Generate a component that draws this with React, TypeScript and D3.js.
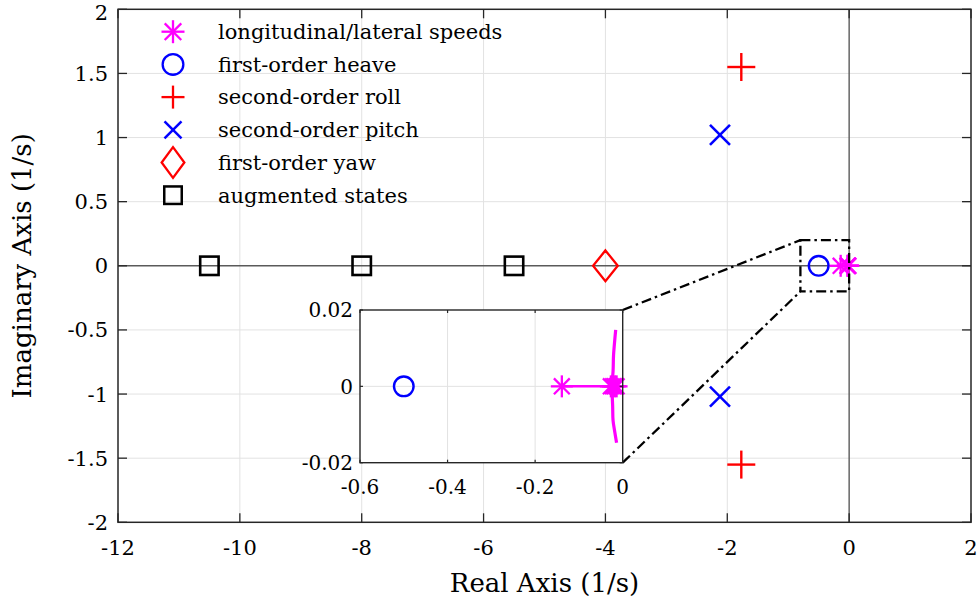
import React from "react";
import * as d3 from "d3";

// ---- data ----
const xTicks = [-12, -10, -8, -6, -4, -2, 0, 2];
const yTicks = [-2, -1.5, -1, -0.5, 0, 0.5, 1, 1.5, 2];
const insetXTicks = [-0.6, -0.4, -0.2, 0];
const insetYTicks = [-0.02, 0, 0.02];

// longitudinal/lateral speed poles (star markers) and their locus
const speedRe = [-0.139, -0.027, -0.022, -0.018, -0.014];
const speedIm = [0, 0, 0, 0, 0];
const speedLocusRe = [-0.139, -0.1, -0.06, -0.03, -0.008];
const speedLocusIm = [0, 0, 0, 0, 0];
const upperBranchRe = [-0.025, -0.022, -0.021, -0.019, -0.016];
const upperBranchIm = [0, 0.004, 0.008, 0.011, 0.0148];
const lowerBranchRe = [-0.025, -0.023, -0.022, -0.018, -0.014];
const lowerBranchIm = [0, -0.005, -0.009, -0.012, -0.0148];

const heaveRe = [-0.5];
const heaveIm = [0];
const rollRe = [-1.77, -1.77];
const rollIm = [1.55, -1.55];
const pitchRe = [-2.12, -2.12];
const pitchIm = [1.02, -1.02];
const yawRe = [-4];
const yawIm = [0];
const augRe = [-10.5, -8, -5.5];
const augIm = [0, 0, 0];

// zoom window drawn on the main axes
const zoomRe = [-0.8, 0];
const zoomIm = [-0.2, 0.2];

const legendLabels = [
  "longitudinal/lateral speeds",
  "first-order heave",
  "second-order roll",
  "second-order pitch",
  "first-order yaw",
  "augmented states",
];

// ---- layout ----
const W = 978;
const H = 605;
const M = { left: 118, right: 971, top: 9.3, bottom: 522.3 };
const INSET = { left: 360, right: 622.7, top: 310, bottom: 462.7 };
const FONT = "'DejaVu Serif', serif";
const MAGENTA = "#ff00ff";
const BLUE = "#0000ff";
const RED = "#ff0000";
const AXIS = "#262626";
const GRID = "#e2e2e2";

type MarkerKind = "star" | "circle" | "plus" | "x" | "diamond" | "square";

function Marker({ kind, x, y, size, color, sw = 2, h }: { kind: MarkerKind; x: number; y: number; size: number; color: string; sw?: number; h?: number }) {
  const r = size / 2;
  const common = { stroke: color, strokeWidth: sw, fill: "none" } as const;
  switch (kind) {
    case "star": {
      const d = r * 0.72;
      return (
        <g {...common} strokeLinecap="butt">
          <line x1={x - r} y1={y} x2={x + r} y2={y} />
          <line x1={x} y1={y - r} x2={x} y2={y + r} />
          <line x1={x - d} y1={y - d} x2={x + d} y2={y + d} />
          <line x1={x - d} y1={y + d} x2={x + d} y2={y - d} />
        </g>
      );
    }
    case "circle":
      return <circle cx={x} cy={y} r={r - sw / 2} {...common} />;
    case "plus":
      return (
        <g {...common}>
          <line x1={x - r} y1={y} x2={x + r} y2={y} />
          <line x1={x} y1={y - r} x2={x} y2={y + r} />
        </g>
      );
    case "x":
      return (
        <g {...common}>
          <line x1={x - r} y1={y - r} x2={x + r} y2={y + r} />
          <line x1={x - r} y1={y + r} x2={x + r} y2={y - r} />
        </g>
      );
    case "diamond": {
      const hh = (h ?? size) / 2;
      const pts = [
        [x, y - hh + sw / 2],
        [x + r - sw / 2, y],
        [x, y + hh - sw / 2],
        [x - r + sw / 2, y],
      ];
      return <polygon points={pts.map((p) => p.join(",")).join(" ")} {...common} strokeLinejoin="miter" />;
    }
    case "square":
      return <rect x={x - r + sw / 2} y={y - r + sw / 2} width={size - sw} height={size - sw} {...common} />;
  }
}

export default function App() {
  const x = d3.scaleLinear().domain([-12, 2]).range([M.left, M.right]);
  const y = d3.scaleLinear().domain([-2, 2]).range([M.bottom, M.top]);
  const ix = d3.scaleLinear().domain([-0.6, 0]).range([INSET.left, INSET.right]);
  const iy = d3.scaleLinear().domain([-0.02, 0.02]).range([INSET.bottom, INSET.top]);

  const fmt = (v: number) => String(v);

  const line = (sx: d3.ScaleLinear<number, number>, sy: d3.ScaleLinear<number, number>, re: number[], im: number[]) =>
    d3.line<number>().x((_, i) => sx(re[i])).y((_, i) => sy(im[i]))(re.map((_, i) => i)) || "";

  const mainTick = 9;
  const insetTick = 3;

  const speedMarks = (sx: any, sy: any) => (
    <g>
      <path d={line(sx, sy, speedLocusRe, speedLocusIm)} stroke={MAGENTA} strokeWidth={2.5} fill="none" />
      <path d={d3.line<number>().x((_, i) => sx(upperBranchRe[i])).y((_, i) => sy(upperBranchIm[i])).curve(d3.curveCatmullRom)(upperBranchRe.map((_, i) => i)) || ""} stroke={MAGENTA} strokeWidth={3.2} fill="none" strokeLinejoin="round" />
      <path d={d3.line<number>().x((_, i) => sx(lowerBranchRe[i])).y((_, i) => sy(lowerBranchIm[i])).curve(d3.curveCatmullRom)(lowerBranchRe.map((_, i) => i)) || ""} stroke={MAGENTA} strokeWidth={3.2} fill="none" strokeLinejoin="round" />
      {speedRe.map((re, i) => (
        <Marker key={i} kind="star" x={sx(re)} y={sy(speedIm[i])} size={22} color={MAGENTA} sw={2.3} />
      ))}
    </g>
  );

  const dashDot = "10,4,2.5,4";

  // legend
  const legendX = 173;
  const legendTextX = 218;
  const legendY0 = 31.7;
  const legendDy = 32.7;
  const legendMarkers: { kind: MarkerKind; color: string; size: number; h?: number; sw?: number }[] = [
    { kind: "star", color: MAGENTA, size: 23, sw: 2.3 },
    { kind: "circle", color: BLUE, size: 23 },
    { kind: "plus", color: RED, size: 23 },
    { kind: "x", color: BLUE, size: 17, sw: 2.4 },
    { kind: "diamond", color: RED, size: 25, h: 33 },
    { kind: "square", color: "#000", size: 20, sw: 2.5 },
  ];

  return (
    <svg width={W} height={H} style={{ position: "absolute", left: 0, top: 0, background: "#fff" }} fontFamily={FONT}>
      <rect x={0} y={0} width={W} height={H} fill="#fff" />
      {/* grid */}
      <g stroke={GRID} strokeWidth={1}>
        {xTicks.filter((t) => t !== -12 && t !== 2 && t !== 0).map((t) => (
          <line key={"gx" + t} x1={x(t)} x2={x(t)} y1={M.top} y2={M.bottom} />
        ))}
        {yTicks.filter((t) => t !== -2 && t !== 2 && t !== 0).map((t) => (
          <line key={"gy" + t} x1={M.left} x2={M.right} y1={y(t)} y2={y(t)} />
        ))}
      </g>
      {/* zero axes */}
      <g stroke="#5a5a5a" strokeWidth={1.4}>
        <line x1={x(0)} x2={x(0)} y1={M.top} y2={M.bottom} />
        <line x1={M.left} x2={M.right} y1={y(0)} y2={y(0)} />
      </g>

      {/* pole markers */}
      {augRe.map((re, i) => (
        <Marker key={"a" + i} kind="square" x={x(re)} y={y(augIm[i])} size={21} color="#000" sw={2.6} />
      ))}
      {yawRe.map((re, i) => (
        <Marker key={"y" + i} kind="diamond" x={x(re)} y={y(yawIm[i])} size={27} h={33} color={RED} sw={2.3} />
      ))}
      {pitchRe.map((re, i) => (
        <Marker key={"p" + i} kind="x" x={x(re)} y={y(pitchIm[i])} size={20} color={BLUE} sw={2.5} />
      ))}
      {rollRe.map((re, i) => (
        <Marker key={"r" + i} kind="plus" x={x(re)} y={y(rollIm[i])} size={28} color={RED} sw={2.4} />
      ))}
      {heaveRe.map((re, i) => (
        <Marker key={"h" + i} kind="circle" x={x(re)} y={y(heaveIm[i])} size={22} color={BLUE} sw={2.4} />
      ))}
      {speedMarks(x, y)}

      {/* zoom window and connectors */}
      <g stroke="#000" strokeWidth={2.3} fill="none" strokeDasharray={dashDot}>
        <rect x={x(zoomRe[0])} y={y(zoomIm[1])} width={x(zoomRe[1]) - x(zoomRe[0])} height={y(zoomIm[0]) - y(zoomIm[1])} />
        <line x1={INSET.right} y1={INSET.top} x2={x(zoomRe[0])} y2={y(zoomIm[1])} />
        <line x1={INSET.right} y1={INSET.bottom} x2={x(zoomRe[0])} y2={y(zoomIm[0])} />
      </g>

      {/* main axes box and ticks */}
      <rect x={M.left} y={M.top} width={M.right - M.left} height={M.bottom - M.top} fill="none" stroke={AXIS} strokeWidth={1.5} />
      <g stroke={AXIS} strokeWidth={1.3}>
        {xTicks.map((t) => (
          <g key={"tx" + t}>
            <line x1={x(t)} x2={x(t)} y1={M.bottom} y2={M.bottom - mainTick} />
            <line x1={x(t)} x2={x(t)} y1={M.top} y2={M.top + mainTick} />
          </g>
        ))}
        {yTicks.map((t) => (
          <g key={"ty" + t}>
            <line x1={M.left} x2={M.left + mainTick} y1={y(t)} y2={y(t)} />
            <line x1={M.right} x2={M.right - mainTick} y1={y(t)} y2={y(t)} />
          </g>
        ))}
      </g>
      <g fontSize={21} fill="#000">
        {xTicks.map((t) => (
          <text key={"lx" + t} x={x(t)} y={555} textAnchor="middle">{fmt(t)}</text>
        ))}
        {yTicks.map((t) => (
          <text key={"ly" + t} x={M.left - 10} y={Math.max(y(t), 12)} dy="0.36em" textAnchor="end">{fmt(t)}</text>
        ))}
      </g>
      <text x={(M.left + M.right) / 2} y={592} textAnchor="middle" fontSize={26}>Real Axis (1/s)</text>
      <text transform={`translate(31,${y(0)}) rotate(-90)`} textAnchor="middle" fontSize={26}>Imaginary Axis (1/s)</text>

      {/* legend */}
      {legendLabels.map((label, i) => {
        const ly = legendY0 + i * legendDy;
        const m = legendMarkers[i];
        return (
          <g key={"lg" + i}>
            <Marker kind={m.kind} x={legendX} y={ly} size={m.size} h={m.h} color={m.color} sw={m.sw ?? 2.3} />
            <text x={legendTextX} y={ly} dy="0.35em" fontSize={21}>{label}</text>
          </g>
        );
      })}

      {/* inset axes */}
      <rect x={INSET.left} y={INSET.top} width={INSET.right - INSET.left} height={INSET.bottom - INSET.top} fill="#fff" />
      <g stroke={GRID} strokeWidth={1}>
        {insetXTicks.filter((t) => t !== -0.6 && t !== 0).map((t) => (
          <line key={"igx" + t} x1={ix(t)} x2={ix(t)} y1={INSET.top} y2={INSET.bottom} />
        ))}
        {insetYTicks.filter((t) => t === 0).map((t) => (
          <line key={"igy" + t} x1={INSET.left} x2={INSET.right} y1={iy(t)} y2={iy(t)} />
        ))}
      </g>
      {heaveRe.map((re, i) => (
        <Marker key={"ih" + i} kind="circle" x={ix(re)} y={iy(heaveIm[i])} size={22} color={BLUE} sw={2.4} />
      ))}
      {speedMarks(ix, iy)}
      <rect x={INSET.left} y={INSET.top} width={INSET.right - INSET.left} height={INSET.bottom - INSET.top} fill="none" stroke={AXIS} strokeWidth={1.4} />
      <g stroke={AXIS} strokeWidth={1.2}>
        {insetXTicks.map((t) => (
          <g key={"itx" + t}>
            <line x1={ix(t)} x2={ix(t)} y1={INSET.bottom} y2={INSET.bottom - insetTick} />
            <line x1={ix(t)} x2={ix(t)} y1={INSET.top} y2={INSET.top + insetTick} />
          </g>
        ))}
        {insetYTicks.map((t) => (
          <g key={"ity" + t}>
            <line x1={INSET.left} x2={INSET.left + insetTick} y1={iy(t)} y2={iy(t)} />
            <line x1={INSET.right} x2={INSET.right - insetTick} y1={iy(t)} y2={iy(t)} />
          </g>
        ))}
      </g>
      <g fontSize={20} fill="#000">
        {insetXTicks.map((t) => (
          <text key={"ilx" + t} x={ix(t)} y={494} textAnchor="middle">{fmt(t)}</text>
        ))}
        {insetYTicks.map((t) => (
          <text key={"ily" + t} x={INSET.left - 7} y={iy(t)} dy="0.36em" textAnchor="end">{fmt(t)}</text>
        ))}
      </g>
    </svg>
  );
}
